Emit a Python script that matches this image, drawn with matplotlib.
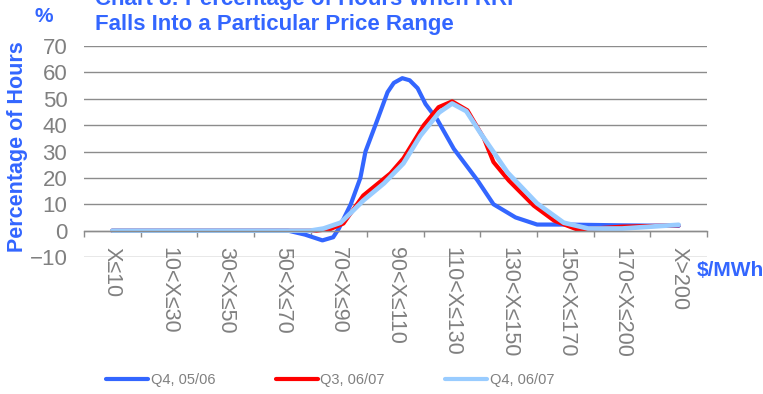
import matplotlib
matplotlib.use("Agg")
import matplotlib.pyplot as plt
from matplotlib import font_manager
from matplotlib.lines import Line2D
from matplotlib.ticker import FixedLocator, MultipleLocator

# Price bands on the category axis
categories = ["X≤10", "10<X≤30", "30<X≤50", "50<X≤70", "70<X≤90", "90<X≤110",
              "110<X≤130", "130<X≤150", "150<X≤170", "170<X≤200", "X>200"]

# Percentage of hours per series, sampled along the category axis (category units)
q4_0506_x = [0, 3.1, 3.4, 3.71, 3.9, 4.0, 4.21, 4.38, 4.47, 4.68, 4.86, 4.97, 5.12,
             5.25, 5.39, 5.53, 5.74, 6.03, 6.45, 6.73, 7.12, 7.5, 8.0, 9.0, 10.0]
q4_0506_y = [0, 0, -1.5, -3.7, -2.5, 0.8, 10, 20, 30, 42, 52.5, 56, 57.8,
             57, 54, 48, 42, 31, 19, 10, 5, 2.3, 2.3, 2, 1.8]

q3_0607_x = [0, 3.6, 3.85, 4.08, 4.43, 4.91, 5.14, 5.5, 5.76, 6.0, 6.27, 6.56,
             6.73, 7.0, 7.44, 7.8, 8.2, 8.5, 9.0, 10.0]
q3_0607_y = [0, 0, 0.6, 2.7, 13.3, 21.7, 27.4, 40, 46.8, 49, 45.6, 35,
             26, 19, 9.5, 3.8, 0.5, 0.8, 1.5, 2]

q4_0607_x = [0, 3.5, 3.73, 4.03, 4.2, 4.43, 4.8, 5.14, 5.44, 5.77, 6.0, 6.25,
             6.5, 6.98, 7.5, 7.97, 8.4, 9.0, 10.0]
q4_0607_y = [0, 0, 0.8, 3, 6.5, 11.4, 18, 25.5, 36, 44.8, 48.2, 45.3,
             37, 22, 10.3, 3, 0.8, 0.8, 2.2]

series_labels = ["Q4, 05/06", "Q3, 06/07", "Q4, 06/07"]

BLUE = "#3366FF"
RED = "#FF0000"
LIGHT = "#99CCFF"
GREY = "#808080"
GRID = "#8C8C8C"

installed = {f.name for f in font_manager.fontManager.ttflist}
base_font = "Liberation Sans"
narrow_font = "Liberation Sans Narrow" if "Liberation Sans Narrow" in installed else base_font
plt.rcParams["font.family"] = [base_font, "DejaVu Sans"]

W, H = 763, 394
fig = plt.figure(figsize=(W / 100, H / 100), dpi=100)
ax = fig.add_axes([84 / W, 1 - 257 / H, 623 / W, 211 / H])

series = [(q4_0506_x, q4_0506_y, BLUE, 3.0),
          (q3_0607_x, q3_0607_y, RED, 3.0),
          (q4_0607_x, q4_0607_y, LIGHT, 3.4)]
handles = []
for (xs, ys, color, lw), label in zip(series, series_labels):
    line, = ax.plot(xs, ys, color=color, lw=lw, solid_capstyle="round",
                    solid_joinstyle="round", label=label)
    handles.append(Line2D([], [], color=color, lw=3.0, solid_capstyle="round"))

ax.set_xlim(-0.5, len(categories) - 0.5)
ax.set_ylim(-10, 70)

# y axis: gridlines only, no spine
ax.yaxis.set_major_locator(MultipleLocator(10))
ax.grid(axis="y", color=GRID, lw=1.0)
ax.set_axisbelow(True)
ax.tick_params(axis="y", length=0, pad=12, labelsize=16, labelcolor=GREY)
for s in ("left", "right", "top"):
    ax.spines[s].set_visible(False)

# x axis sits on zero, ticks between categories, labels hanging below
ax.spines["bottom"].set_position(("data", 0))
ax.spines["bottom"].set_color(GRID)
ax.spines["bottom"].set_linewidth(1.0)
ax.set_xticks(range(len(categories)))
ax.set_xticklabels(categories, rotation=-90, fontsize=15.5, color=GREY)
ax.tick_params(axis="x", which="major", length=0, pad=12)
ax.xaxis.set_minor_locator(FixedLocator([i - 0.5 for i in range(len(categories) + 1)]))
ax.tick_params(axis="x", which="minor", length=4, width=1.0, color=GRID, direction="out")

# Titles and axis captions
fig.text(95 / W, 1 - 5 / H, "Chart 8: Percentage of Hours When RRP",
         color=BLUE, fontsize=16, fontweight="bold", va="baseline", ha="left")
fig.text(95 / W, 1 - 30 / H, "Falls Into a Particular Price Range",
         color=BLUE, fontsize=16, fontweight="bold", va="baseline", ha="left")
fig.text(44 / W, 1 - 17 / H, "%", color=BLUE, fontsize=15, fontweight="bold",
         ha="center", va="center")
fig.text(18 / W, 1 - 147 / H, "Percentage of Hours", color=BLUE, fontsize=15.5,
         fontweight="bold", rotation=90, ha="center", va="center")
fig.text(697 / W, 1 - 270 / H, "$/MWh", color=BLUE, fontsize=15,
         fontweight="bold", ha="left", va="center")

# Legend along the bottom
leg_fs = 15 if narrow_font != base_font else 10.5
fs_px = leg_fs * 100 / 72
leg = fig.legend(handles, series_labels, loc="center left",
                 bbox_to_anchor=(106 / W, 1 - 380 / H), ncol=3, frameon=False,
                 borderpad=0, borderaxespad=0, handlelength=42 / fs_px,
                 handletextpad=3 / fs_px, columnspacing=60 / fs_px,
                 prop={"family": narrow_font, "size": leg_fs})
for t in leg.get_texts():
    t.set_color(GREY)

fig.savefig("out.png", dpi=100)
